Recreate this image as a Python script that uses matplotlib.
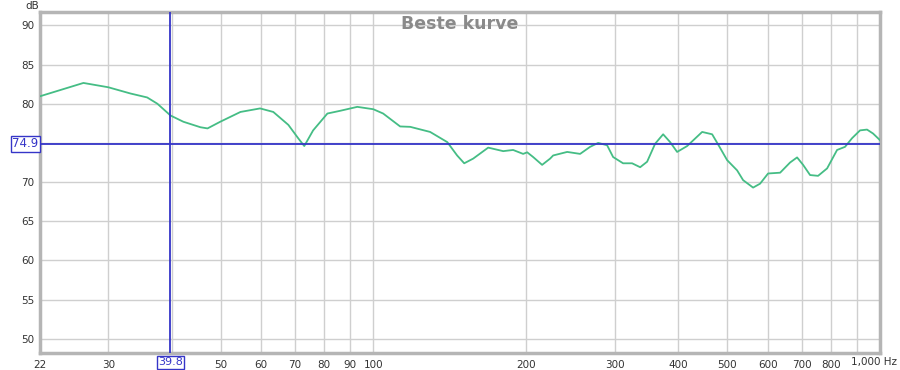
import matplotlib
matplotlib.use("Agg")
import matplotlib.pyplot as plt
from matplotlib.ticker import FixedLocator, NullLocator, NullFormatter

# ---- data ----
freq_hz = [22.0, 26.8, 30.0, 33.2, 35.8, 37.5, 39.8, 42.2, 45.6, 47.1, 49.9, 54.7,
           59.8, 63.5, 68.0, 71.1, 73.1, 76.1, 81.2, 86.1, 93.0, 100.0, 104.6, 113.0,
           118.3, 129.5, 140.0, 146.4, 151.2, 157.5, 168.6, 180.5, 188.8, 197.6, 201.3,
           206.8, 215.4, 223.4, 226.5, 241.4, 256.0, 267.9, 277.9, 289.4, 297.4, 311.2,
           324.2, 336.3, 347.1, 360.0, 373.3, 385.4, 397.8, 416.3, 445.7, 466.4, 479.3,
           499.3, 522.4, 536.9, 561.8, 579.9, 601.4, 635.2, 664.6, 686.1, 705.1, 727.8,
           754.8, 786.4, 822.8, 853.1, 880.7, 913.3, 942.8, 968.8, 1000.0]
level_db = [80.95, 82.65, 82.1, 81.3, 80.8, 80.0, 78.5, 77.7, 77.0, 76.85, 77.7, 78.95,
            79.4, 78.95, 77.3, 75.6, 74.6, 76.6, 78.75, 79.1, 79.6, 79.3, 78.75, 77.1,
            77.05, 76.4, 75.1, 73.4, 72.4, 73.0, 74.4, 73.95, 74.1, 73.6, 73.8,
            73.2, 72.2, 73.0, 73.4, 73.85, 73.6, 74.5, 75.0, 74.7, 73.2, 72.4,
            72.4, 71.9, 72.6, 74.9, 76.1, 75.1, 73.85, 74.6, 76.4, 76.1, 74.8,
            72.8, 71.5, 70.25, 69.3, 69.8, 71.1, 71.2, 72.5, 73.15, 72.2, 70.9,
            70.8, 71.75, 74.1, 74.5, 75.6, 76.6, 76.7, 76.2, 75.35]

cursor_db = 74.9
cursor_hz = 39.8
title = "Beste kurve"
y_ticks = [50, 55, 60, 65, 70, 75, 80, 85, 90]
y_tick_labels = ["50", "55", "60", "65", "70", "", "80", "85", "90"]
x_grid = [30, 40, 50, 60, 70, 80, 90, 100, 200, 300, 400, 500, 600, 700, 800, 900]
x_tick_vals = [22, 30, 50, 60, 70, 80, 90, 100, 200, 300, 400, 500, 600, 700, 800]
x_tick_labels = ["22", "30", "50", "60", "70", "80", "90", "100", "200", "300", "400",
                 "500", "600", "700", "800"]

BLUE = "#3535c8"
GREEN = "#45bd85"

fig = plt.figure(figsize=(9, 3.7), dpi=100)
ax = fig.add_axes([40/900, 1-353/370, 840/900, (353-12)/370])
ax.set_xscale("log")
ax.set_xlim(22, 1000)
ax.set_ylim(48.2, 91.7)

# grid
for g in x_grid:
    ax.axvline(g, color="#cfcfcf", lw=1.0, zorder=1)
for g in y_ticks:
    ax.axhline(g, color="#cfcfcf", lw=1.0, zorder=1)

ax.xaxis.set_major_locator(FixedLocator(x_tick_vals))
ax.xaxis.set_major_formatter(plt.FixedFormatter(x_tick_labels))
ax.xaxis.set_minor_locator(NullLocator())
ax.xaxis.set_minor_formatter(NullFormatter())
ax.set_yticks(y_ticks)
ax.set_yticklabels(y_tick_labels)
ax.tick_params(axis="both", length=0, labelsize=7.5, colors="#333333")
ax.tick_params(axis="x", pad=5)
ax.tick_params(axis="y", pad=4)

for s in ax.spines.values():
    s.set_color("#b5b5b5")
    s.set_linewidth(2.5)

# curve
ax.plot(freq_hz, level_db, color=GREEN, lw=1.3, zorder=3)

# cursors
ax.axhline(cursor_db, color=BLUE, lw=1.3, zorder=4)
ax.axvline(cursor_hz, color=BLUE, lw=1.3, zorder=4)

# cursor value boxes
box = dict(boxstyle="square,pad=0.12", fc="white", ec=BLUE, lw=1.0)
ax.annotate(f"{cursor_db}", xy=(0, cursor_db), xycoords=("axes fraction", "data"),
            xytext=(-1, 0), textcoords="offset points", ha="right", va="center",
            fontsize=8.5, color=BLUE, bbox=box, annotation_clip=False)
ax.annotate(f"{cursor_hz}", xy=(cursor_hz, 0), xycoords=("data", "axes fraction"),
            xytext=(0, -6.6), textcoords="offset points", ha="center", va="center",
            fontsize=8, color=BLUE, bbox=box, annotation_clip=False)

# 1,000 Hz label and dB label
fig.text(897/900, 1-362/370, "1,000 Hz", ha="right", va="center", fontsize=7.5, color="#333333")
fig.text(32/900, 1-6/370, "dB", ha="center", va="center", fontsize=7.5, color="#333333")

# title
ax.text(0.5, 0.99, title, transform=ax.transAxes, ha="center", va="top",
        fontsize=12.5, fontweight="bold", color="#8a8a8a", zorder=5)

fig.savefig("out.png", dpi=100)
